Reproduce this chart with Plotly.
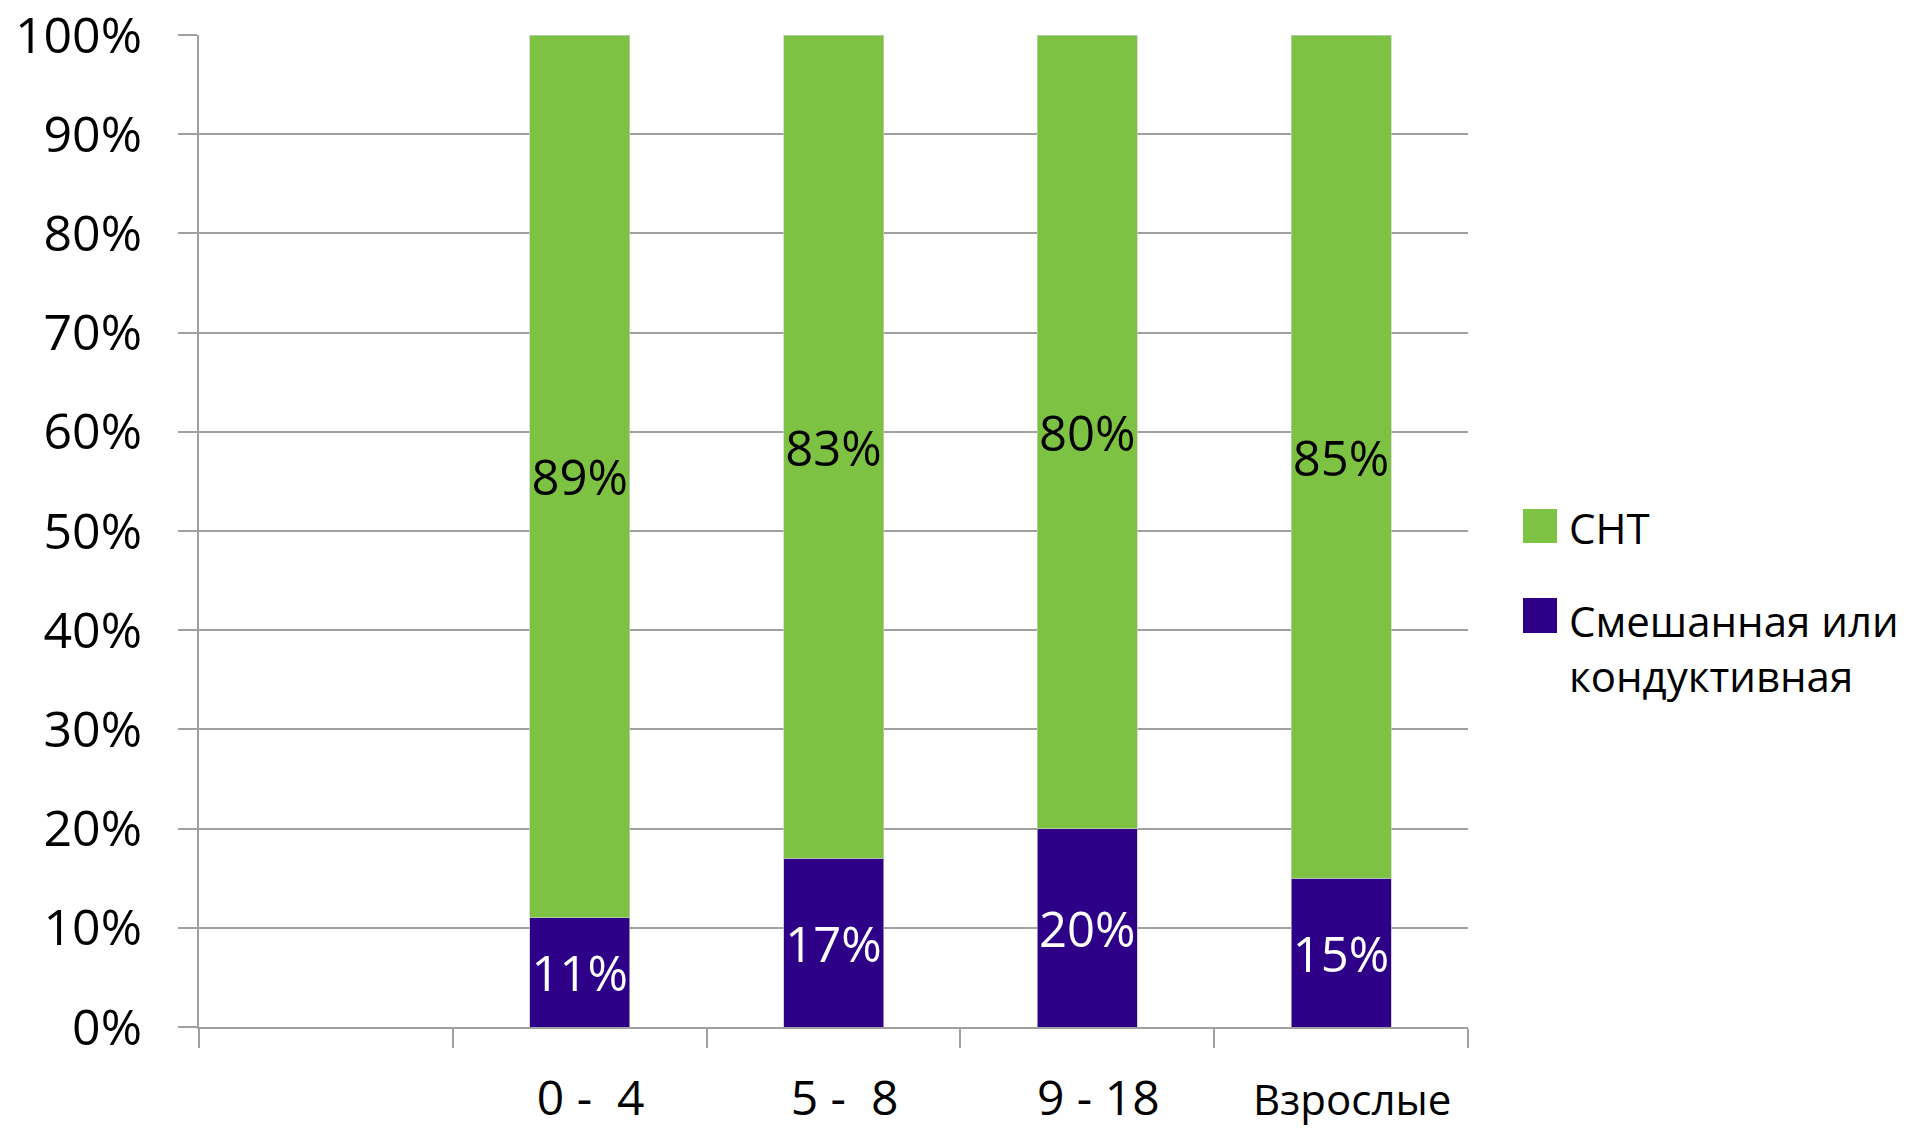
import plotly.graph_objects as go

# Hearing-loss type by age group, share of cases (%)
categories = ["0 -  4", "5 -  8", "9 - 18", "Взрослые"]
axis_slots = [" "] + categories          # first slot of the axis stays empty
series_names = ["Смешанная или<br>кондуктивная", "СНТ"]
mixed_values = [11, 17, 20, 15]
snt_values = [89, 83, 80, 85]
y_ticks = [0, 10, 20, 30, 40, 50, 60, 70, 80, 90, 100]
y_tick_labels = [f"{v}%" for v in y_ticks]

GREEN = "#7DC242"
PURPLE = "#2E0087"
GRID = "#A0A0A0"
FONT = "Open Sans"

W, H = 1919, 1131
M_L, M_R, M_T, M_B = 199, 451, 35, 104
plot_w = W - M_L - M_R
plot_h = H - M_T - M_B


def px_x(px):
    return (px - M_L) / plot_w


def px_y(py):
    return (H - M_B - py) / plot_h


def x_label(cat):
    # the word label is set a little smaller than the numeric ranges
    if any(ch.isdigit() for ch in cat) or not cat.strip():
        return cat
    return f'<span style="font-size:42px">{cat}</span>'


fig = go.Figure()
fig.add_trace(go.Bar(
    x=categories, y=mixed_values, name=series_names[0],
    marker=dict(color=PURPLE, line=dict(color="rgba(190,190,200,0.7)", width=1)),
    text=[f"{v}%" for v in mixed_values], texttemplate="%{text}",
    textposition="inside", insidetextanchor="middle",
    textangle=0, constraintext="none",
    textfont=dict(family=FONT, size=49, color="white"),
    showlegend=False,
))
fig.add_trace(go.Bar(
    x=categories, y=snt_values, name=series_names[1],
    marker=dict(color=GREEN, line=dict(color="rgba(200,210,200,0.7)", width=1)),
    text=[f"{v}%" for v in snt_values], texttemplate="%{text}",
    textposition="inside", insidetextanchor="middle",
    textangle=0, constraintext="none",
    textfont=dict(family=FONT, size=49, color="black"),
    showlegend=False,
))

# Legend drawn as swatches + labels on the right
legend_items = [
    (series_names[1], GREEN, 509, 543, 527),
    (series_names[0], PURPLE, 598, 633, 648),
]
for name, color, top, bottom, text_mid in legend_items:
    fig.add_shape(type="rect", xref="paper", yref="paper",
                  x0=px_x(1523), x1=px_x(1557), y0=px_y(bottom), y1=px_y(top),
                  fillcolor=color, line=dict(width=0))
    fig.add_annotation(xref="paper", yref="paper", x=px_x(1567), y=px_y(text_mid),
                       xanchor="left", yanchor="middle", align="left",
                       text=name, showarrow=False,
                       font=dict(family=FONT, size=42, color="black"))

fig.update_layout(
    width=W, height=H,
    margin=dict(l=M_L, r=M_R, t=M_T, b=M_B, autoexpand=False),
    barmode="stack", bargap=0.606,
    plot_bgcolor="white", paper_bgcolor="white",
    font=dict(family=FONT, size=49, color="black"),
    showlegend=False,
)
fig.update_xaxes(
    type="category", categoryorder="array", categoryarray=axis_slots,
    tickmode="array", tickvals=axis_slots, ticktext=[x_label(c) for c in axis_slots],
    range=[-0.5, len(axis_slots) - 0.5],
    tickson="boundaries", ticks="outside", ticklen=19, tickwidth=2, tickcolor=GRID,
    showline=True, linecolor=GRID, linewidth=2, showgrid=False,
    tickfont=dict(family=FONT, size=48, color="black"),
    ticklabelstandoff=28, ticklabelshift=11, ticklabeloverflow="allow",
    automargin=False,
)
fig.update_yaxes(
    range=[0, 100], tickmode="array", tickvals=y_ticks, ticktext=y_tick_labels,
    ticks="outside", ticklen=19, tickwidth=2, tickcolor=GRID,
    showline=True, linecolor=GRID, linewidth=2,
    showgrid=True, gridcolor=GRID, gridwidth=2, zeroline=False,
    tickfont=dict(family=FONT, size=50, color="black"),
    ticklabelstandoff=26, ticklabeloverflow="allow",
    automargin=False,
)

fig.write_html("out.html")
